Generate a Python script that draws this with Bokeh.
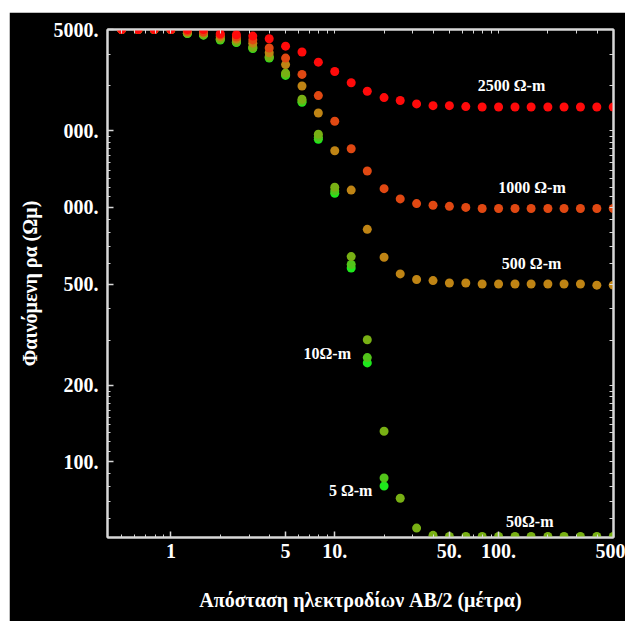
from bokeh.plotting import figure
from bokeh.models import FixedTicker, LogAxis, Label, Spacer
from bokeh.layouts import column, row
from bokeh.embed import file_html
from bokeh.resources import INLINE

# AB/2 electrode spacing (m), 10 points per decade
ab2 = [0.5, 0.63, 0.79, 1.0, 1.26, 1.58, 2.0, 2.51, 3.16, 3.98,
       5.01, 6.31, 7.94, 10.0, 12.6, 15.8, 20.0, 25.1, 31.6, 39.8,
       50.1, 63.1, 79.4, 100.0, 126.0, 158.0, 200.0, 251.0, 316.0, 398.0, 501.0]

rho_2500 = [5000, 5000, 5000, 5000, 5000, 5000, 4810, 4770, 4710, 4600,
            4300, 4080, 3720, 3420, 3090, 2860, 2700, 2630, 2550, 2510,
            2510, 2490, 2480, 2480, 2480, 2480, 2480, 2480, 2480, 2480, 2480]
rho_1000 = [5000, 5000, 5000, 5000, 4930, 4890, 4760, 4670, 4550, 4230,
            3860, 3330, 2750, 2180, 1700, 1390, 1185, 1080, 1035, 1020,
            1010, 1000, 990, 990, 990, 990, 990, 990, 990, 990, 990]
rho_500 = [5000, 5000, 5000, 5000, 4890, 4850, 4690, 4590, 4420, 4050,
           3640, 3000, 2350, 1670, 1170, 820, 637, 548, 521, 516,
           505, 505, 500, 500, 500, 500, 500, 500, 500, 495, 495]
rho_50 = [5000, 5000, 5000, 5000, 4840, 4780, 4600, 4490, 4270, 3920,
          3370, 2660, 1940, 1200, 641, 302, 132, 72, 55, 51.5,
          51, 51, 51, 51, 51, 51, 51, 51, 51, 51, 51]
rho_10 = [5000, 5000, 5000, 5000, 4830, 4760, 4570, 4460, 4230, 3880,
          3325, 2616, 1887, 1162, 597, 257, 86.5]
rho_5 = [5000, 5000, 5000, 5000, 4820, 4750, 4545, 4445, 4210, 3860,
         3300, 2590, 1853, 1136, 578, 245, 80.5]

series_names = ["2500 Ω-m", "1000 Ω-m", "500 Ω-m", "50Ω-m", "10Ω-m", "5 Ω-m"]
series_vals = [rho_2500, rho_1000, rho_500, rho_50, rho_10, rho_5]
series_colors = ["#ff0a0a", "#e04812", "#bf8414", "#78b014", "#52c41a", "#1ee81c"]

x_ticks = [1, 5, 10, 50, 100, 500]
x_tick_labels = ["1", "5", "10.", "50.", "100.", "500"]
x_minor = [0.5, 0.6, 0.7, 0.8, 0.9, 2, 3, 4, 6, 7, 8, 9, 20, 30, 40,
           60, 70, 80, 90, 200, 300, 400]
y_ticks = [100, 200, 500, 1000, 2000, 5000]
y_tick_labels = ["100.", "200.", "500.", "000.", "000.", "5000."]
y_minor = [60, 70, 80, 90, 110, 120, 130, 140, 150, 160, 170, 180, 190,
           300, 400, 600, 700, 800, 900, 1100, 1200, 1300, 1400, 1500,
           1600, 1700, 1800, 1900, 3000, 4000]

FONT = "Liberation Serif"
AX = "#d8d8d8"

p = figure(width=616, height=609, x_axis_type="log", y_axis_type="log",
           x_range=(0.41, 503), y_range=(50.5, 5000),
           output_backend="svg", toolbar_location=None,
           background_fill_color="black", border_fill_color="black",
           min_border_left=98, min_border_right=12, min_border_top=17,
           min_border_bottom=84)
p.grid.visible = False
p.outline_line_color = AX
p.outline_line_width = 2

# draw low-resistivity curves first so the red curve sits on top
for vals, col in reversed(list(zip(series_vals, series_colors))):
    p.scatter(ab2[:len(vals)], vals, size=9, fill_color=col, line_color=None)

def style_ticks(ax):
    ax.axis_line_color = AX
    ax.axis_line_width = 2
    ax.major_tick_line_color = AX
    ax.minor_tick_line_color = AX
    ax.major_tick_in = 6
    ax.major_tick_out = 0
    ax.minor_tick_in = 3
    ax.minor_tick_out = 0
    ax.major_tick_line_width = 1.5
    ax.minor_tick_line_width = 1

def style_labels(ax, ticks, labels):
    ax.major_label_overrides = {t: l for t, l in zip(ticks, labels)}
    ax.major_label_text_color = "white"
    ax.major_label_text_font = FONT
    ax.major_label_text_font_style = "bold"
    ax.major_label_text_font_size = "20px"
    ax.axis_label_text_color = "white"
    ax.axis_label_text_font = FONT
    ax.axis_label_text_font_style = "bold"
    ax.axis_label_text_font_size = "20px"

xax = p.xaxis[0]
yax = p.yaxis[0]
xax.ticker = FixedTicker(ticks=x_ticks, minor_ticks=x_minor)
yax.ticker = FixedTicker(ticks=y_ticks, minor_ticks=y_minor)
style_ticks(xax)
style_ticks(yax)
style_labels(xax, x_ticks, x_tick_labels)
style_labels(yax, y_ticks, y_tick_labels)
xax.axis_label = "Απόσταση ηλεκτροδίων AB/2 (μέτρα)"
yax.axis_label = "Φαινόμενη ρα (Ωμ)"
xax.major_label_standoff = 6
xax.axis_label_standoff = 28
yax.major_label_standoff = 9
yax.axis_label_standoff = 10

# mirrored frame ticks (no labels) on top and right
top = LogAxis(ticker=FixedTicker(ticks=[], minor_ticks=x_ticks + x_minor))
right = LogAxis(ticker=FixedTicker(ticks=[], minor_ticks=y_ticks + y_minor))
for ax in (top, right):
    style_ticks(ax)
    ax.minor_tick_in = 4
    ax.major_label_standoff = 0
p.add_layout(top, "above")
p.add_layout(right, "right")

label_pos = [(120, 3000), (160, 1200), (159, 602), (155, 58.6), (9.0, 266), (12.5, 77.6)]
for (lx, ly), name in zip(label_pos, series_names):
    p.add_layout(Label(x=lx, y=ly, text=name, text_align="center",
                       text_baseline="middle", text_color="white",
                       text_font=FONT, text_font_style="bold",
                       text_font_size="16px"))

layout = column(Spacer(height=12), row(Spacer(width=9), p))
open("out.html", "w").write(file_html(layout, INLINE))
